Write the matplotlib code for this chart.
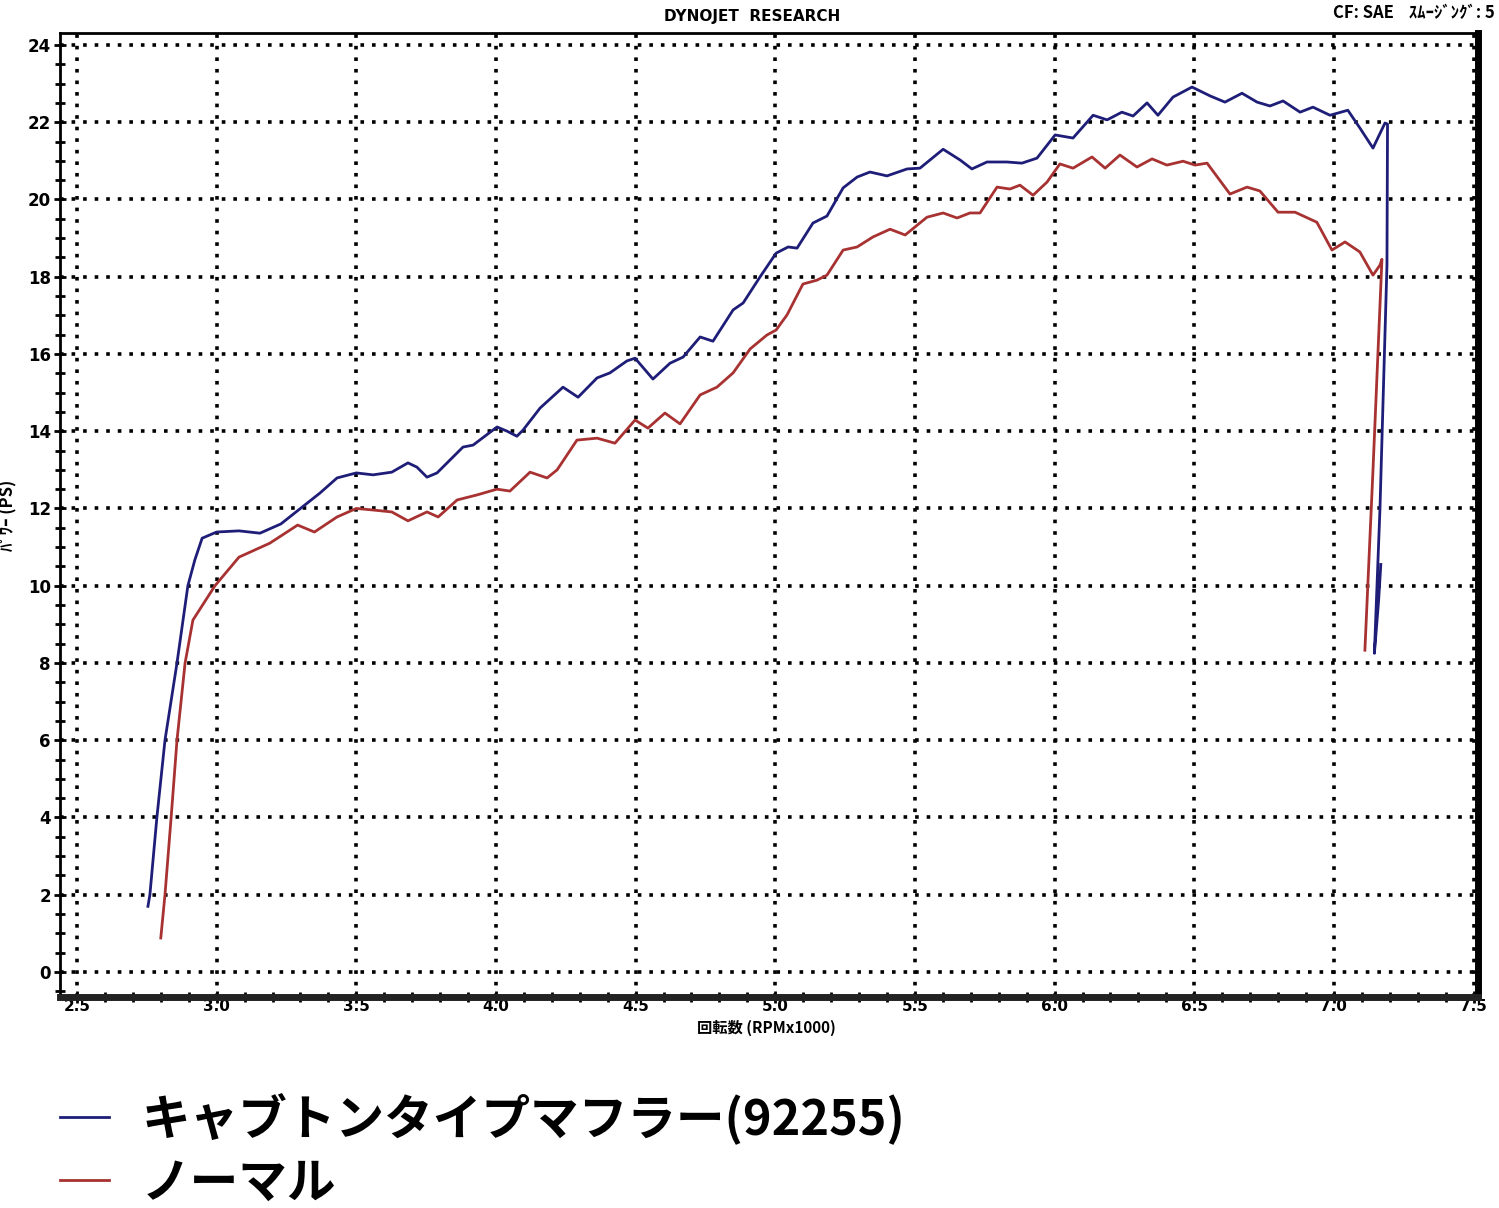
import numpy as np
import matplotlib
matplotlib.use("Agg")
import matplotlib.pyplot as plt
from matplotlib.ticker import MultipleLocator

plt.rcParams['font.family'] = ['DejaVu Sans', 'Noto Sans CJK JP']
JP = ['Noto Sans CJK JP', 'DejaVu Sans']

# キャブトンタイプマフラー(92255)
rpm_cab = [2.754, 2.761, 2.786, 2.815, 2.858, 2.897, 2.922, 2.948, 3.0, 3.08, 3.155, 3.23, 3.30,
           3.370, 3.431, 3.5, 3.56, 3.627, 3.685, 3.717, 3.753, 3.789, 3.882, 3.918, 4.004, 4.040,
           4.075, 4.097, 4.158, 4.240, 4.294, 4.362, 4.408, 4.469, 4.498, 4.562, 4.623, 4.670,
           4.731, 4.777, 4.849, 4.885, 4.945, 5.003, 5.046, 5.078, 5.135, 5.185, 5.243, 5.293,
           5.339, 5.400, 5.472, 5.518, 5.601, 5.662, 5.704, 5.758, 5.830, 5.883, 5.937, 6.002,
           6.066, 6.138, 6.188, 6.241, 6.281, 6.331, 6.370, 6.424, 6.492, 6.557, 6.610, 6.671,
           6.725, 6.771, 6.818, 6.879, 6.925, 6.986, 7.050, 7.093, 7.140, 7.183, 7.192, 7.19,
           7.165, 7.145, 7.16, 7.168]
ps_cab = [1.7, 2.0, 4.0, 6.0, 8.0, 10.0, 10.67, 11.23, 11.39, 11.42, 11.36, 11.6, 12.0,
          12.40, 12.79, 12.92, 12.87, 12.94, 13.18, 13.07, 12.81, 12.92, 13.59, 13.64, 14.11, 14.00,
          13.87, 14.03, 14.60, 15.14, 14.88, 15.38, 15.51, 15.82, 15.89, 15.35, 15.76, 15.92,
          16.44, 16.33, 17.14, 17.32, 17.99, 18.61, 18.77, 18.74, 19.39, 19.57, 20.30, 20.58,
          20.71, 20.61, 20.79, 20.81, 21.30, 21.02, 20.79, 20.97, 20.97, 20.94, 21.07, 21.67,
          21.59, 22.18, 22.06, 22.26, 22.16, 22.50, 22.18, 22.65, 22.91, 22.68, 22.52, 22.75,
          22.52, 22.42, 22.55, 22.26, 22.39, 22.18, 22.31, 21.85, 21.33, 21.98, 21.95, 18.3,
          12.0, 8.25, 9.6, 10.55]

# ノーマル
rpm_norm = [2.80, 2.815, 2.837, 2.858, 2.887, 2.915, 2.994, 3.08, 3.19, 3.29, 3.35, 3.431, 3.5,
            3.56, 3.627, 3.685, 3.753, 3.793, 3.861, 3.932, 4.004, 4.050, 4.122, 4.183, 4.219,
            4.290, 4.362, 4.426, 4.498, 4.544, 4.605, 4.659, 4.731, 4.791, 4.849, 4.910, 4.970,
            5.003, 5.042, 5.099, 5.149, 5.185, 5.243, 5.293, 5.350, 5.411, 5.465, 5.543, 5.601,
            5.651, 5.697, 5.733, 5.794, 5.840, 5.876, 5.923, 5.973, 6.019, 6.066, 6.134, 6.181,
            6.234, 6.295, 6.349, 6.402, 6.460, 6.503, 6.546, 6.628, 6.689, 6.735, 6.800, 6.861,
            6.939, 6.993, 7.040, 7.093, 7.140, 7.165, 7.172, 7.14, 7.111]
ps_norm = [0.88, 2.0, 4.0, 6.0, 8.0, 9.11, 10.0, 10.74, 11.10, 11.57, 11.39, 11.78, 12.0,
           11.96, 11.91, 11.68, 11.91, 11.78, 12.22, 12.35, 12.50, 12.45, 12.94, 12.79, 13.00,
           13.77, 13.82, 13.69, 14.29, 14.08, 14.47, 14.19, 14.94, 15.14, 15.51, 16.13, 16.49,
           16.62, 17.01, 17.81, 17.91, 18.04, 18.69, 18.77, 19.03, 19.23, 19.08, 19.54, 19.65,
           19.52, 19.65, 19.65, 20.32, 20.27, 20.37, 20.11, 20.45, 20.92, 20.81, 21.10, 20.81,
           21.15, 20.84, 21.05, 20.89, 20.99, 20.89, 20.94, 20.14, 20.32, 20.22, 19.67, 19.67,
           19.41, 18.69, 18.90, 18.64, 18.04, 18.3, 18.45, 13.0, 8.33]

labels = ['キャブトンタイプマフラー(92255)', 'ノーマル']
colors = ['#1e1e78', '#a83232']
xticks = [2.5, 3.0, 3.5, 4.0, 4.5, 5.0, 5.5, 6.0, 6.5, 7.0, 7.5]

fig = plt.figure(figsize=(14.99, 12.08), dpi=100)
ax = fig.add_axes([0.040, 0.1747, 0.946, 0.798])

l1, = ax.plot(rpm_norm, ps_norm, color=colors[1], lw=2.0, zorder=3)
l2, = ax.plot(rpm_cab, ps_cab, color=colors[0], lw=2.0, zorder=4)

ax.set_xlim(2.439, 7.516)
ax.set_ylim(-0.647, 24.31)
ax.xaxis.set_minor_locator(MultipleLocator(0.1))
ax.yaxis.set_major_locator(MultipleLocator(2))
ax.yaxis.set_minor_locator(MultipleLocator(0.5))
ax.set_xticks(xticks)
ax.set_xticklabels(['%.1f' % v for v in xticks])
ax.grid(True, which='major', color='black', linestyle=(0, (1, 2.2)), linewidth=2.6)

ax.tick_params(axis='both', which='major', direction='inout', length=9, width=2,
               labelsize=12)
ax.tick_params(axis='both', which='minor', direction='inout', length=7, width=2)
ax.tick_params(axis='x', pad=-3, labelsize=11)
ax.tick_params(axis='y', pad=2)
for t in ax.get_xticklabels() + ax.get_yticklabels():
    t.set_fontweight('bold')

for s in ['left', 'top']:
    ax.spines[s].set_linewidth(2)
ax.spines['right'].set_linewidth(5)
ax.spines['bottom'].set_linewidth(5)
ax.spines['bottom'].set_color('#222222')

fig.text(752 / 1499, 1 - 16 / 1208, 'DYNOJET  RESEARCH', ha='center', va='center',
         fontsize=11, fontweight='bold')
fig.text(1495 / 1499, 1 - 13 / 1208, 'CF: SAE    ｽﾑｰｼﾞﾝｸﾞ: 5', ha='right', va='center',
         fontsize=12, fontweight='bold', family=JP)
fig.text(766 / 1499, 1 - 1028 / 1208, '回転数 (RPMx1000)', ha='center', va='center',
         fontsize=11, fontweight='bold', family=JP)
fig.text(8 / 1499, 1 - 515 / 1208, 'ﾊﾟﾜｰ (PS)', ha='center', va='center', rotation=90,
         fontsize=12, fontweight='bold', family=JP)

fig.legend([l2, l1], labels, loc='upper left', bbox_to_anchor=(0.040, 1 - 1092 / 1208),
           frameon=False, borderpad=0, borderaxespad=0, handlelength=1.0,
           handletextpad=0.68, labelspacing=0.3,
           prop={'family': JP, 'weight': 'bold', 'size': 35})

fig.savefig('out.png', dpi=100)
